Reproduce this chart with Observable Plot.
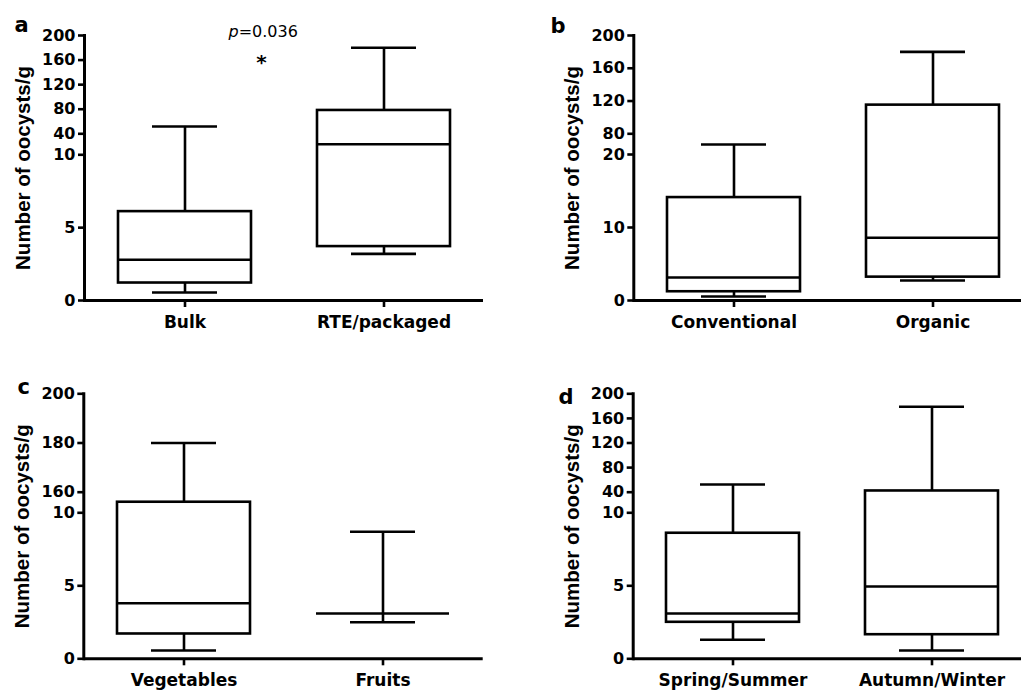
<!DOCTYPE html>
<html>
<head>
<meta charset="utf-8">
<script src="https://cdn.jsdelivr.net/npm/d3@7"></script>
<script src="https://cdn.jsdelivr.net/npm/@observablehq/plot@0.6"></script>
<style>
html, body { margin: 0; padding: 0; background: #fff; overflow: hidden; width: 1021px; height: 690px; }
#root { position: relative; width: 1021px; height: 690px; overflow: hidden; background: #fff; }
.panel { position: absolute; }
</style>
</head>
<body>
<div id="root"></div>
<script>
// ---------- data ----------
const yLabel = "Number of oocysts/g";

const categoriesA = ["Bulk", "RTE/packaged"];
const minA = [0.55, 3.2];
const q1A = [1.2, 3.7];
const medianA = [2.8, 25];
const q3A = [6.1, 78];
const maxA = [52, 180];
const ticksA = [0, 5, 10, 40, 80, 120, 160, 200];
const breaksA = [0, 10, 40, 200];
const pValueA = "=0.036";
const starA = "*";

const categoriesB = ["Conventional", "Organic"];
const minB = [0.55, 2.75];
const q1B = [1.2, 3.2];
const medianB = [3.15, 8.6];
const q3B = [14.1, 115];
const maxB = [49, 180];
const ticksB = [0, 10, 20, 80, 120, 160, 200];
const breaksB = [0, 20, 80, 200];

const categoriesC = ["Vegetables", "Fruits"];
const minC = [0.57, 2.5];
const q1C = [1.7, 3.1];
const medianC = [3.8, 3.1];
const q3C = [87, 3.1];
const maxC = [180, 8.7];
const ticksC = [0, 5, 10, 160, 180, 200];
const breaksC = [0, 10, 160, 200];

const categoriesD = ["Spring/Summer", "Autumn/Winter"];
const minD = [1.3, 0.57];
const q1D = [2.5, 1.65];
const medianD = [3.1, 4.95];
const q3D = [8.6, 42];
const maxD = [52.5, 179];
const ticksD = [0, 5, 10, 40, 80, 120, 160, 200];
const breaksD = [0, 10, 40, 200];

// ---------- layout ----------
const LW = 2.6;
const BOLD = "'DejaVu Sans', sans-serif";

function panel(cfg) {
  const rows = cfg.cats.map((c, i) => ({cat: c, min: cfg.min[i], q1: cfg.q1[i], med: cfg.med[i], q3: cfg.q3[i], max: cfg.max[i]}));
  const L = cfg.layout;
  const line = {stroke: "black", strokeWidth: LW};
  const marks = [
    Plot.ruleX(rows, {x: "cat", y1: "q3", y2: "max", ...line}),
    Plot.ruleX(rows, {x: "cat", y1: "min", y2: "q1", ...line}),
    Plot.rectY(rows, {x: "cat", y1: "q1", y2: "q3", fill: "white", ...line, insetLeft: 33, insetRight: 33}),
    Plot.tickY(rows, {x: "cat", y: "med", ...line, insetLeft: 33, insetRight: 33}),
    Plot.tickY(rows, {x: "cat", y: "max", ...line, insetLeft: 67, insetRight: 67}),
    Plot.tickY(rows, {x: "cat", y: "min", ...line, insetLeft: 67, insetRight: 67}),
    Plot.ruleY([0], {stroke: "black", strokeWidth: 3}),
    Plot.frame({anchor: "left", stroke: "black", strokeWidth: 3}),
    Plot.axisY({ticks: cfg.ticks, tickSize: 6, tickPadding: 3, stroke: "black", strokeWidth: LW,
      fontSize: 16, fontWeight: "bold", fontFamily: BOLD, label: null, tickFormat: d => `${d}`}),
    Plot.axisX({tickSize: 7, tickPadding: 8, stroke: "black", strokeWidth: LW,
      fontSize: 17, fontWeight: "bold", fontFamily: BOLD, label: null}),
    Plot.text([yLabel], {text: d => d, frameAnchor: "left", textAnchor: "middle", lineAnchor: "middle", rotate: -90, dx: -61,
      fontSize: 20.5, fontWeight: "bold", fontFamily: "'Liberation Sans', Arial, sans-serif", fill: "black"}),
    Plot.text([cfg.letter], {text: d => d, frameAnchor: "top-left", textAnchor: "start", lineAnchor: "bottom",
      dx: L.letterDx, dy: L.letterDy, fontSize: 21, fontWeight: "bold", fontFamily: BOLD, fill: "black"})
  ];
  if (cfg.extra) marks.push(...cfg.extra);
  const svg = Plot.plot({
    width: L.width, height: L.height,
    marginLeft: L.marginLeft, marginRight: L.marginRight,
    marginTop: L.range[L.range.length - 1], marginBottom: L.height - L.range[0],
    x: {type: "band", domain: cfg.cats, padding: 0},
    y: {type: "linear", domain: cfg.breaks, range: L.range},
    style: {background: "transparent", color: "black", overflow: "visible", fontFamily: BOLD},
    marks
  });
  svg.classList.add("panel");
  svg.style.left = L.left + "px";
  svg.style.top = L.top + "px";
  document.getElementById("root").appendChild(svg);
}

panel({
  letter: "a", cats: categoriesA, min: minA, q1: q1A, med: medianA, q3: q3A, max: maxA, ticks: ticksA, breaks: breaksA,
  layout: {left: 0, top: 0, width: 510, height: 345, marginLeft: 84, marginRight: 27, range: [300, 154.3, 133.3, 35], letterDx: -70, letterDy: -3.3},
  extra: [
    Plot.text(["p"], {text: d => d, frameAnchor: "top-left", textAnchor: "start", lineAnchor: "bottom", dx: 144, dy: 1.7,
      fontSize: 16, fontStyle: "italic", fontWeight: "normal", fontFamily: "'DejaVu Sans', sans-serif", fill: "black"}),
    Plot.text([pValueA], {text: d => d, frameAnchor: "top-left", textAnchor: "start", lineAnchor: "bottom", dx: 154.2, dy: 1.7,
      fontSize: 16, fontWeight: "normal", fontFamily: "'DejaVu Sans', sans-serif", fill: "black"}),
    Plot.text([starA], {text: d => d, frameAnchor: "top-left", textAnchor: "middle", lineAnchor: "bottom", dx: 177, dy: 33,
      fontSize: 20, fontWeight: "bold", fontFamily: BOLD, fill: "black"})
  ]
});

panel({
  letter: "b", cats: categoriesB, min: minB, q1: q1B, med: medianB, q3: q3B, max: maxB, ticks: ticksB, breaks: breaksB,
  layout: {left: 540, top: 0, width: 500, height: 345, marginLeft: 93.3, marginRight: 8, range: [300, 154, 133.3, 35], letterDx: -83.3, letterDy: -3}
});

panel({
  letter: "c", cats: categoriesC, min: minC, q1: q1C, med: medianC, q3: q3C, max: maxC, ticks: ticksC, breaks: breaksC,
  layout: {left: 0, top: 345, width: 510, height: 345, marginLeft: 83.3, marginRight: 27.3, range: [313.3, 167.3, 146.7, 48.3], letterDx: -66.3, letterDy: 0}
});

panel({
  letter: "d", cats: categoriesD, min: minD, q1: q1D, med: medianD, q3: q3D, max: maxD, ticks: ticksD, breaks: breaksD,
  layout: {left: 540, top: 345, width: 500, height: 345, marginLeft: 92.7, marginRight: 8, range: [313.3, 167.3, 146.7, 48.3], letterDx: -74.7, letterDy: 10}
});
</script>
</body>
</html>
